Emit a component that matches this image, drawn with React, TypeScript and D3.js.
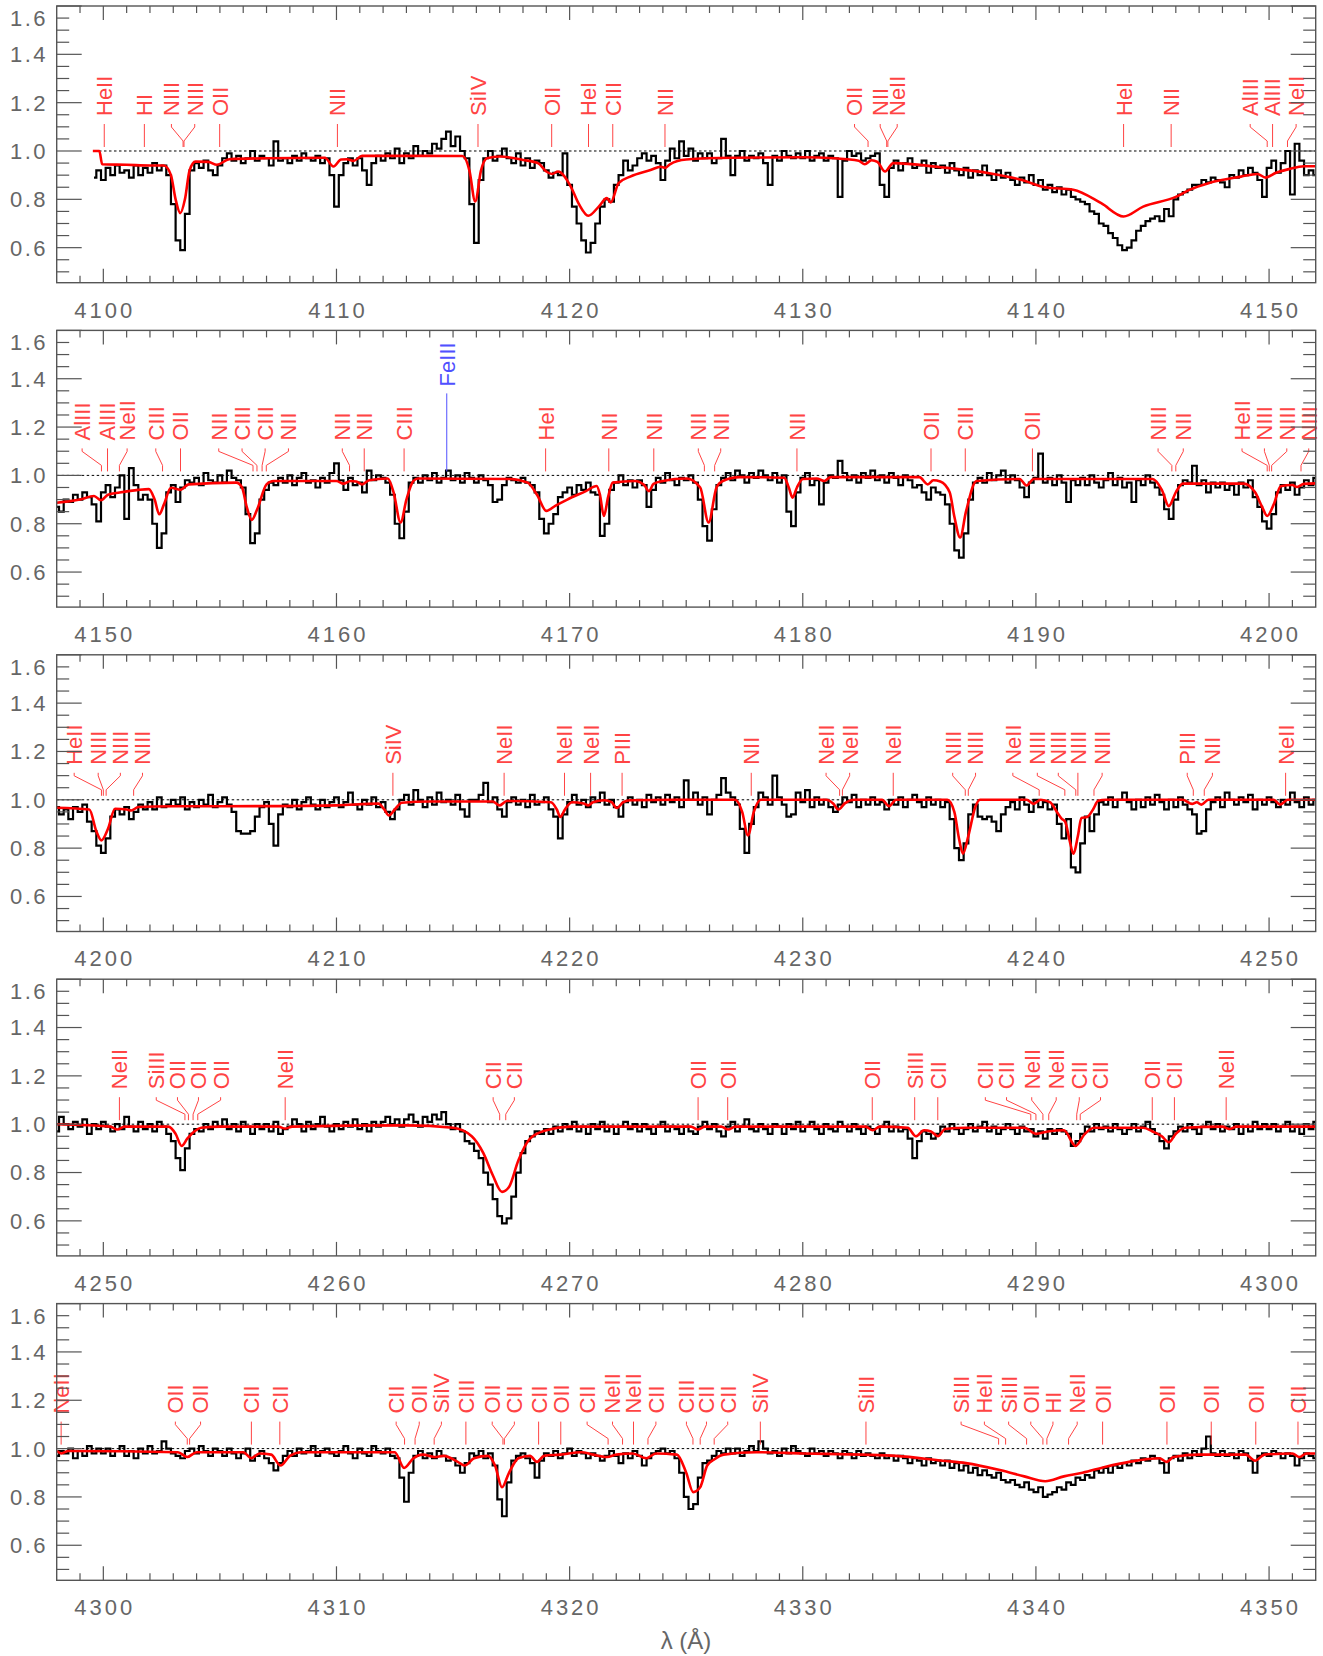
import * as d3 from "d3";

// observed spectrum, flux x100, sampled every 0.2 A
const STEP = 0.2;
// 4099.6 .. 4149.8
const fluxA = [
  89, 92,
  88, 93, 90, 94, 91, 92, 89, 94, 90, 93, 91, 95, 92, 94, 90, 78, 63, 59, 74, 92,
  95, 93, 96, 92, 90, 94, 97, 99, 96, 98, 95, 97, 100, 96, 98, 97, 94, 104, 96, 97,
  95, 98, 96, 99, 97, 96, 98, 95, 97, 90, 77, 90, 95, 97, 94, 97, 92, 86, 95, 98,
  96, 99, 97, 101, 95, 99, 97, 102, 98, 100, 99, 103, 101, 105, 108, 102, 106, 100, 97, 78,
  62, 88, 97, 100, 96, 98, 101, 97, 95, 99, 94, 97, 93, 96, 95, 92, 89, 91, 90, 99,
  86, 77, 70, 63, 58, 62, 70, 77, 80, 79, 86, 90, 96, 92, 94, 97, 99, 96, 98, 95,
  88, 96, 101, 97, 104, 98, 101, 96, 99, 97, 99, 95, 97, 105, 98, 90, 98, 100, 96, 98,
  97, 99, 95, 86, 98, 96, 100, 98, 97, 99, 97, 100, 96, 98, 99, 96, 98, 97, 81, 96,
  100, 98, 99, 96, 97, 98, 99, 86, 81, 93, 96, 92, 95, 97, 93, 94, 96, 91, 95, 93,
  94, 91, 95, 92, 90, 93, 89, 92, 90, 94, 90, 88, 92, 89, 91, 88, 86, 89, 87, 90,
  86, 88, 84, 86, 83, 85, 82, 84, 81, 80, 79, 78, 75, 74, 70, 69, 66, 64, 61, 59,
  60, 63, 67, 69, 71, 72, 73, 71, 76, 73, 80, 82, 83, 84, 86, 86, 88, 87, 89, 88,
  87, 85, 90, 89, 92, 90, 93, 91, 88, 81,
];
// 4150.0 .. 4199.8
const fluxB = [
  93, 96, 91, 95, 100, 82, 103, 96, 90, 92, 90, 80, 70, 76, 93, 96, 89, 95, 98, 97,
  99, 96, 101, 98, 97, 100, 97, 102, 99, 98, 95, 84, 72, 76, 90, 94, 97, 96, 99, 97,
  100, 96, 99, 101, 97, 98, 95, 99, 97, 101, 105, 98, 94, 99, 96, 97, 93, 102, 98, 100,
  99, 97, 92, 80, 74, 85, 97, 99, 97, 100, 98, 101, 97, 99, 102, 98, 100, 97, 101, 99,
  97, 100, 98, 96, 89, 90, 96, 99, 98, 97, 99, 97, 96, 93, 82, 76, 80, 84, 91, 93,
  95, 92, 96, 94, 97, 93, 92, 75, 80, 94, 97, 100, 96, 98, 95, 98, 96, 87, 94, 99,
  97, 101, 98, 96, 99, 98, 100, 97, 90, 79, 73, 86, 96, 99, 101, 98, 102, 100, 97, 101,
  99, 102, 100, 98, 101, 97, 100, 85, 79, 93, 99, 101, 96, 98, 88, 97, 100, 99, 106, 101,
  98, 100, 97, 101, 99, 102, 98, 100, 97, 101, 99, 96, 100, 98, 95, 96, 93, 90, 95, 93,
  92, 88, 80, 69, 66, 76, 90, 97, 99, 97, 101, 98, 100, 102, 97, 100, 98, 95, 91, 97,
  99, 109, 97, 99, 96, 100, 97, 89, 98, 96, 99, 96, 100, 97, 95, 98, 101, 96, 99, 95,
  97, 89, 98, 96, 100, 97, 95, 92, 86, 82, 90, 96, 98, 97, 104, 96, 98, 93, 97, 95,
  97, 94, 96, 92, 97, 95, 98, 91, 87, 81,
];
// 4200.0 .. 4249.8
const fluxC = [
  78, 84, 93, 96, 94, 97, 92, 95, 98, 96, 99, 96, 101, 97, 98, 100, 98, 101, 96, 99,
  97, 100, 98, 102, 97, 99, 101, 98, 95, 87, 86, 86, 87, 93, 97, 99, 90, 81, 94, 98,
  97, 100, 96, 99, 101, 98, 96, 100, 97, 99, 101, 97, 99, 103, 98, 96, 100, 98, 101, 97,
  99, 95, 92, 96, 100, 102, 98, 104, 100, 97, 101, 98, 103, 99, 100, 98, 102, 96, 93, 100,
  100, 102, 107, 99, 101, 96, 93, 99, 101, 98, 100, 97, 102, 98, 99, 101, 96, 93, 84, 94,
  99, 102, 98, 100, 97, 101, 99, 103, 98, 100, 97, 93, 99, 101, 98, 100, 97, 102, 99, 101,
  98, 102, 99, 101, 97, 108, 100, 103, 98, 101, 94, 100, 102, 109, 103, 101, 98, 88, 78, 90,
  97, 103, 101, 98, 110, 101, 98, 93, 94, 103, 99, 104, 97, 101, 98, 100, 97, 95, 98, 101,
  99, 102, 97, 100, 98, 101, 98, 99, 96, 100, 98, 101, 97, 100, 102, 99, 97, 101, 98, 100,
  97, 99, 92, 80, 75, 82, 94, 98, 93, 92, 93, 91, 87, 94, 97, 99, 96, 101, 98, 95,
  100, 97, 99, 96, 98, 90, 84, 92, 72, 70, 82, 93, 87, 94, 99, 98, 101, 97, 100, 103,
  99, 96, 100, 97, 101, 98, 102, 99, 96, 100, 97, 101, 98, 96, 94, 86, 87, 96, 99, 101,
  97, 103, 100, 98, 101, 99, 102, 96, 100, 98,
];
// 4250.0 .. 4299.8
const fluxD = [
  101, 99, 97, 100, 98, 103, 99, 97, 101, 98, 100, 97, 101, 99, 96, 93, 86, 81, 90, 96,
  98, 97, 100, 98, 101, 99, 102, 98, 100, 97, 101, 99, 96, 100, 98, 100, 97, 101, 96, 98,
  99, 102, 100, 97, 101, 98, 100, 103, 99, 97, 100, 98, 101, 99, 102, 98, 100, 97, 101, 99,
  101, 103, 100, 102, 99, 102, 104, 101, 99, 103, 101, 104, 102, 105, 100, 98, 100, 97, 93, 92,
  89, 86, 80, 75, 69, 62, 59, 61, 70, 80, 88, 93, 95, 97, 96, 98, 96, 99, 97, 100,
  98, 101, 97, 99, 96, 100, 98, 101, 97, 99, 96, 99, 101, 98, 100, 97, 100, 98, 96, 99,
  101, 97, 99, 98, 96, 99, 97, 96, 99, 101, 98, 100, 97, 95, 99, 101, 97, 99, 102, 98,
  97, 100, 98, 96, 100, 99, 96, 100, 98, 101, 97, 99, 101, 98, 96, 100, 98, 97, 101, 99,
  97, 100, 98, 96, 99, 98, 96, 99, 101, 97, 99, 97, 98, 94, 86, 93, 97, 96, 94, 96,
  99, 97, 100, 98, 96, 98, 100, 97, 99, 101, 97, 99, 96, 98, 100, 98, 96, 99, 97, 98,
  95, 97, 94, 98, 96, 98, 97, 96, 91, 93, 96, 99, 97, 100, 98, 99, 97, 100, 98, 96,
  98, 100, 97, 99, 101, 98, 96, 93, 90, 95, 97, 99, 97, 100, 98, 96, 99, 101, 98, 100,
  97, 99, 98, 100, 96, 99, 97, 101, 98, 100,
];
// 4300.0 .. 4352.0
const fluxE = [
  98, 100, 97, 99, 101, 97, 99, 96, 100, 98, 101, 98, 99, 103, 100, 98, 97, 96, 99, 100,
  98, 101, 99, 97, 100, 99, 97, 100, 98, 96, 98, 100, 95, 97, 99, 96, 94, 91, 94, 97,
  99, 97, 100, 98, 99, 101, 97, 99, 100, 98, 97, 99, 101, 98, 96, 100, 98, 97, 101, 99,
  98, 100, 97, 96, 88, 78, 90, 97, 99, 96, 98, 96, 99, 97, 95, 96, 93, 90, 94, 98,
  97, 99, 96, 98, 93, 79, 72, 86, 95, 97, 98, 96, 94, 88, 95, 98, 97, 99, 96, 98,
  100, 97, 99, 98, 96, 98, 97, 95, 97, 99, 97, 94, 98, 96, 99, 97, 93, 96, 98, 99,
  100, 98, 99, 96, 90, 80, 75, 77, 88, 94, 95, 97, 99, 98, 100, 98, 100, 97, 99, 101,
  99, 103, 100, 98, 99, 97, 100, 98, 101, 99, 98, 97, 100, 98, 99, 97, 99, 98, 96, 99,
  98, 96, 99, 97, 98, 97, 96, 98, 96, 97, 95, 97, 96, 94, 96, 95, 93, 96, 94, 95,
  93, 95, 92, 94, 91, 93, 90, 92, 89, 91, 89, 88, 90, 87, 86, 87, 85, 84, 86, 83,
  82, 84, 80, 81, 82, 84, 83, 86, 85, 88, 87, 89, 88, 91, 90, 92, 90, 93, 92, 94,
  93, 95, 94, 96, 95, 97, 96, 94, 90, 96, 97, 95, 98, 96, 99, 97, 100, 105, 98, 97,
  99, 97, 98, 96, 99, 98, 95, 90, 97, 98, 97, 99, 98, 96, 98, 97, 93, 96, 98, 97,
  96,
];

// model spectrum knots [wavelength, flux] read per panel
const modelP1 = [
  [4099.55, 1.0], [4099.83, 1.0], [4099.95, 0.945], [4101.0, 0.943], [4102.0, 0.94], [4102.6, 0.94],
  [4102.9, 0.9], [4103.1, 0.8], [4103.3, 0.743], [4103.5, 0.8], [4103.7, 0.92], [4103.95, 0.956],
  [4104.5, 0.955], [4104.87, 0.943], [4105.4, 0.966], [4107, 0.97], [4109.5, 0.972], [4109.87, 0.936],
  [4110.2, 0.965], [4110.45, 0.966], [4110.73, 0.959], [4111.1, 0.98], [4113, 0.98], [4115.4, 0.979],
  [4115.7, 0.92], [4115.95, 0.791], [4116.2, 0.92], [4116.45, 0.97], [4117, 0.977], [4118, 0.963],
  [4118.66, 0.949], [4119.0, 0.915], [4119.25, 0.905], [4119.5, 0.915], [4120.05, 0.853], [4120.4, 0.78],
  [4120.8, 0.732], [4121.25, 0.77], [4121.6, 0.805], [4121.76, 0.787], [4122.1, 0.867], [4122.6, 0.894],
  [4123.5, 0.922], [4123.9, 0.935], [4124.1, 0.93], [4124.3, 0.945], [4125, 0.965], [4127, 0.972],
  [4130, 0.974], [4131.35, 0.97], [4132.4, 0.96], [4132.66, 0.945], [4132.95, 0.962], [4133.2, 0.955],
  [4133.53, 0.915], [4133.88, 0.95], [4135.9, 0.933], [4138, 0.908], [4139.4, 0.88], [4140.4, 0.85],
  [4141.6, 0.84], [4142.8, 0.784], [4143.76, 0.729], [4144.6, 0.77], [4146.0, 0.81], [4146.6, 0.84],
  [4147.4, 0.867], [4148.8, 0.894], [4149.5, 0.905], [4149.85, 0.89], [4150.3, 0.91], [4150.85, 0.925],
  [4151.5, 0.937], [4152, 0.937],
];
const modelP2 = [
  [4148, 0.887], [4149.0, 0.9], [4149.6, 0.915], [4149.9, 0.897], [4150.2, 0.92], [4150.7, 0.929],
  [4151.5, 0.94], [4151.95, 0.943], [4152.2, 0.9], [4152.4, 0.839], [4152.6, 0.88], [4152.9, 0.949],
  [4153.3, 0.94], [4153.66, 0.963], [4155.7, 0.97], [4155.95, 0.95], [4156.15, 0.87], [4156.37, 0.816],
  [4156.6, 0.86], [4157.0, 0.963], [4157.3, 0.977], [4160.0, 0.977], [4160.3, 0.966], [4160.6, 0.977],
  [4160.85, 0.975], [4161.1, 0.963], [4161.4, 0.98], [4162.2, 0.987], [4162.45, 0.93], [4162.75, 0.805],
  [4163.0, 0.9], [4163.3, 0.977], [4163.5, 0.987], [4167.45, 0.985], [4168.2, 0.97], [4168.6, 0.92],
  [4169.0, 0.853], [4169.4, 0.875], [4169.9, 0.9], [4170.7, 0.935], [4171.16, 0.956], [4171.3, 0.92],
  [4171.47, 0.832], [4171.65, 0.91], [4171.85, 0.97], [4172.8, 0.977], [4173.2, 0.96], [4173.4, 0.935],
  [4173.6, 0.965], [4174, 0.977], [4175, 0.987], [4175.6, 0.95], [4175.96, 0.805], [4176.3, 0.95],
  [4176.57, 0.977], [4177.3, 0.993], [4179.2, 0.99], [4179.4, 0.95], [4179.56, 0.908], [4179.75, 0.95],
  [4180.0, 0.985], [4180.6, 0.987], [4180.92, 0.977], [4181.2, 0.993], [4185.0, 0.993], [4185.36, 0.963],
  [4185.6, 0.98], [4185.9, 0.975], [4186.3, 0.93], [4186.5, 0.83], [4186.75, 0.743], [4187.0, 0.85],
  [4187.45, 0.977], [4189.3, 0.985], [4189.6, 0.958], [4189.9, 0.985], [4195.0, 0.985], [4195.4, 0.94],
  [4195.7, 0.873], [4196.0, 0.93], [4196.3, 0.966], [4198.9, 0.966], [4199.4, 0.93], [4199.7, 0.87],
  [4199.92, 0.832], [4200.2, 0.88], [4200.5, 0.955], [4201.0, 0.96], [4201.2, 0.952], [4201.5, 0.965],
  [4202, 0.967],
];
const modelP3 = [
  [4198, 0.967], [4199.4, 0.96], [4199.7, 0.87], [4199.92, 0.832], [4200.2, 0.88], [4200.5, 0.963],
  [4201.0, 0.96], [4201.2, 0.956], [4201.5, 0.97], [4203, 0.973], [4207, 0.974], [4210, 0.977],
  [4211.8, 0.984], [4212.05, 0.96], [4212.25, 0.935], [4212.5, 0.96], [4212.8, 0.988], [4214, 0.993],
  [4216.7, 0.993], [4217.0, 0.977], [4217.3, 0.995], [4219.2, 0.99], [4219.45, 0.96], [4219.6, 0.929],
  [4219.8, 0.96], [4220.1, 0.99], [4220.6, 0.985], [4220.8, 0.977], [4221.0, 0.99], [4221.5, 0.998],
  [4221.8, 0.99], [4222.02, 0.966], [4222.3, 0.99], [4222.6, 0.998], [4224.5, 1.0], [4227.1, 1.0],
  [4227.4, 0.95], [4227.65, 0.853], [4227.9, 0.95], [4228.2, 1.0], [4231.0, 1.0], [4231.3, 0.985],
  [4231.53, 0.96], [4231.8, 0.985], [4232.2, 1.0], [4233.4, 1.0], [4233.7, 0.974], [4234.0, 1.0],
  [4236.2, 1.0], [4236.5, 0.95], [4236.7, 0.84], [4236.87, 0.777], [4237.1, 0.85], [4237.4, 0.97],
  [4237.6, 1.0], [4239.6, 1.0], [4239.9, 0.983], [4240.2, 1.0], [4240.6, 0.99], [4240.9, 0.95],
  [4241.1, 0.922], [4241.25, 0.91], [4241.45, 0.83], [4241.6, 0.777], [4241.8, 0.85], [4241.95, 0.925],
  [4242.2, 0.929], [4242.45, 0.96], [4242.67, 0.996], [4243, 1.0], [4246.3, 1.0], [4246.7, 0.983],
  [4246.9, 0.99], [4247.1, 0.98], [4247.4, 1.0], [4250.2, 1.0], [4250.47, 0.98], [4250.8, 1.0],
  [4252, 1.0],
];
const modelP4 = [
  [4248, 1.0], [4250.3, 0.99], [4250.6, 0.978], [4250.9, 0.99], [4252.8, 0.99], [4253.1, 0.96],
  [4253.36, 0.91], [4253.6, 0.94], [4253.9, 0.97], [4254.2, 0.985], [4255, 0.99], [4257.5, 0.99],
  [4257.8, 0.982], [4258.1, 0.99], [4263, 0.995], [4265, 0.985], [4265.8, 0.95], [4266.3, 0.88],
  [4266.7, 0.79], [4267.1, 0.72], [4267.4, 0.74], [4267.8, 0.85], [4268.3, 0.94], [4269, 0.975],
  [4270, 0.99], [4275.2, 0.99], [4275.5, 0.978], [4275.8, 0.99], [4276.5, 0.99], [4276.8, 0.978],
  [4277.1, 0.99], [4282.7, 0.99], [4283.0, 0.975], [4283.3, 0.99], [4284.5, 0.985], [4284.85, 0.95],
  [4285.2, 0.975], [4285.5, 0.97], [4285.8, 0.95], [4286.1, 0.98], [4287, 0.985], [4289.5, 0.985],
  [4290.0, 0.96], [4290.5, 0.97], [4291.2, 0.975], [4291.7, 0.91], [4292.1, 0.96], [4292.5, 0.985],
  [4294.6, 0.985], [4295.0, 0.97], [4295.4, 0.95], [4295.7, 0.925], [4296.0, 0.96], [4296.4, 0.985],
  [4298.0, 0.99], [4298.3, 0.98], [4298.6, 0.99], [4300, 0.99], [4302, 0.99],
];
const modelP5 = [
  [4298, 0.99], [4298.2, 0.98], [4298.5, 0.99], [4303.2, 0.985], [4303.6, 0.965], [4304.0, 0.985],
  [4306.0, 0.985], [4306.35, 0.96], [4306.7, 0.98], [4307.2, 0.975], [4307.6, 0.93], [4308.0, 0.97],
  [4308.5, 0.985], [4312.5, 0.985], [4312.9, 0.92], [4313.3, 0.96], [4313.7, 0.975], [4314.2, 0.965],
  [4314.6, 0.97], [4315.2, 0.945], [4315.5, 0.93], [4315.9, 0.96], [4316.5, 0.97], [4316.8, 0.93],
  [4317.1, 0.84], [4317.4, 0.9], [4317.8, 0.96], [4318.3, 0.97], [4318.6, 0.945], [4318.9, 0.97],
  [4319.6, 0.975], [4320.5, 0.985], [4321.0, 0.975], [4321.6, 0.965], [4322.0, 0.975], [4322.7, 0.98],
  [4323.3, 0.96], [4323.7, 0.98], [4324.6, 0.975], [4325.0, 0.9], [4325.3, 0.82], [4325.6, 0.84],
  [4325.9, 0.93], [4326.2, 0.955], [4326.6, 0.975], [4328, 0.985], [4330, 0.98], [4332.5, 0.975],
  [4334, 0.97], [4336, 0.95], [4337, 0.94], [4338.5, 0.91], [4339.5, 0.885], [4340.4, 0.865],
  [4341.2, 0.885], [4342, 0.9], [4343, 0.925], [4344, 0.945], [4345.3, 0.96], [4345.6, 0.945],
  [4345.9, 0.965], [4347, 0.975], [4349.0, 0.975], [4349.4, 0.95], [4349.8, 0.975], [4351.0, 0.98],
  [4351.3, 0.965], [4351.6, 0.98], [4352, 0.98],
];

// line identifications: [ion, label wavelength, line wavelength]
const linesP1 = [
  ["HeII", 4100.04, 4100.04], ["HI", 4101.76, 4101.76], ["NIII", 4102.92, 4103.42], ["NIII", 4103.92, 4103.46],
  ["OII", 4104.99, 4104.99], ["NII", 4110.04, 4110.04], ["SiIV", 4116.07, 4116.07], ["OII", 4119.23, 4119.23],
  ["HeI", 4120.81, 4120.81], ["CIII", 4121.85, 4121.85], ["NII", 4124.09, 4124.09], ["OII", 4132.22, 4132.8],
  ["NII", 4133.32, 4133.6], ["NeII", 4134.05, 4133.65], ["HeI", 4143.76, 4143.76], ["NII", 4145.8, 4145.8],
  ["AlIII", 4149.19, 4149.92], ["AlIII", 4150.15, 4150.15], ["NeII", 4151.16, 4150.79],
];
const linesP2 = [
  ["AlIII", 4149.09, 4149.92], ["AlIII", 4150.18, 4150.18], ["NeII", 4151.02, 4150.69], ["CIII", 4152.25, 4152.54],
  ["OII", 4153.31, 4153.31], ["NII", 4154.95, 4156.42], ["CIII", 4155.95, 4156.59], ["CIII", 4156.94, 4156.81],
  ["NII", 4157.94, 4156.99], ["NII", 4160.25, 4160.56], ["NII", 4161.19, 4161.19], ["CIII", 4162.9, 4162.9],
  ["HeI", 4168.97, 4168.97], ["NII", 4171.68, 4171.68], ["NII", 4173.61, 4173.61], ["NII", 4175.52, 4175.78],
  ["NII", 4176.48, 4176.22], ["NII", 4179.75, 4179.75], ["OII", 4185.5, 4185.5], ["CIII", 4186.97, 4186.97],
  ["OII", 4189.85, 4189.85], ["NIII", 4195.24, 4195.83], ["NII", 4196.32, 4196.0], ["HeII", 4198.84, 4199.92],
  ["NIII", 4199.8, 4200.01], ["NIII", 4200.76, 4200.11], ["NIII", 4201.7, 4201.37],
];
const linesP3 = [
  ["HeII", 4198.75, 4199.92], ["NIII", 4199.78, 4200.0], ["NIII", 4200.73, 4200.12], ["NIII", 4201.68, 4201.3],
  ["SiIV", 4212.42, 4212.42], ["NeII", 4217.19, 4217.19], ["NeII", 4219.78, 4219.78], ["NeII", 4220.9, 4220.9],
  ["PIII", 4222.25, 4222.25], ["NII", 4227.79, 4227.79], ["NeII", 4231.0, 4231.58], ["NeII", 4232.01, 4231.7],
  ["NeII", 4233.88, 4233.88], ["NIII", 4236.43, 4236.97], ["NIII", 4237.41, 4237.1], ["NeII", 4239.01, 4240.14],
  ["NIII", 4240.06, 4241.24], ["NIII", 4240.96, 4241.71], ["NIII", 4241.8, 4241.8], ["NIII", 4242.84, 4242.49],
  ["PIII", 4246.49, 4246.75], ["NII", 4247.57, 4247.22], ["NeII", 4250.71, 4250.71],
];
const linesP4 = [
  ["NeII", 4250.69, 4250.69], ["SiIII", 4252.27, 4253.5], ["OII", 4253.18, 4253.65], ["OII", 4254.08, 4253.85],
  ["OII", 4255.03, 4254.05], ["NeII", 4257.8, 4257.8], ["CII", 4266.72, 4267.0], ["CII", 4267.63, 4267.26],
  ["OII", 4275.51, 4275.51], ["OII", 4276.78, 4276.78], ["OII", 4282.98, 4282.98], ["SiIII", 4284.8, 4284.8],
  ["CII", 4285.79, 4285.79], ["CII", 4287.83, 4289.78], ["CII", 4288.74, 4290.0], ["NeII", 4289.82, 4290.3],
  ["NeII", 4290.87, 4290.55], ["CII", 4291.86, 4291.75], ["CII", 4292.77, 4291.9], ["OII", 4294.99, 4294.99],
  ["CII", 4295.94, 4295.94], ["NeII", 4298.16, 4298.16],
];
const linesP5 = [
  ["NeII", 4298.19, 4298.19], ["OII", 4303.09, 4303.6], ["OII", 4304.17, 4303.7], ["CII", 4306.35, 4306.35],
  ["CII", 4307.57, 4307.57], ["CII", 4312.56, 4312.92], ["OII", 4313.55, 4313.37], ["SiIV", 4314.5, 4314.19],
  ["CIII", 4315.55, 4315.55], ["OII", 4316.68, 4317.14], ["CII", 4317.63, 4317.2], ["CII", 4318.67, 4318.67],
  ["OII", 4319.62, 4319.62], ["CII", 4320.75, 4321.65], ["NeII", 4321.84, 4322.27], ["NeII", 4322.74, 4322.72],
  ["CII", 4323.7, 4323.36], ["CIII", 4325.01, 4325.29], ["CII", 4325.87, 4325.6], ["CII", 4326.78, 4326.2],
  ["SiIV", 4328.18, 4328.18], ["SiIII", 4332.71, 4332.71], ["SiIII", 4336.79, 4338.4], ["HeII", 4337.79, 4338.7],
  ["SiIII", 4338.83, 4339.6], ["OII", 4339.78, 4340.3], ["HI", 4340.73, 4340.47], ["NeII", 4341.77, 4341.4],
  ["OII", 4342.86, 4342.86], ["OII", 4345.62, 4345.62], ["OII", 4347.52, 4347.52], ["OII", 4349.43, 4349.43],
  ["CII", 4351.24, 4351.24],
];
const ironLines = [["FeIII", 4164.73]];

const panelRanges = [[4098, 4152], [4148, 4202], [4198, 4252], [4248, 4302], [4298, 4352]];
const panelModels = [modelP1, modelP2, modelP3, modelP4, modelP5];
const panelLines = [linesP1, linesP2, linesP3, linesP4, linesP5];
const yMajor = [0.6, 0.8, 1.0, 1.2, 1.4, 1.6];

const W = 1323;
const H = 1656;
const LEFT = 56.7;
const RIGHT = 1315.7;
const TOP0 = 6;
const PH = 276.7;
const GAP = 324.4;
const FONT = "'Liberation Sans', Arial, sans-serif";
const AXIS = "#555";
const RED = "#ff4444";
const BLUE = "#5050ff";

const spectrum: [number, number][] = (
  [[4099.6, fluxA], [4150, fluxB], [4200, fluxC], [4250, fluxD], [4300, fluxE]] as [number, number[]][]
).flatMap(([start, arr]) => arr.map((f, i) => [+(start + i * STEP).toFixed(2), f / 100] as [number, number]));

function Panel({ idx }: { idx: number }) {
  const [lo, hi] = panelRanges[idx];
  const top = TOP0 + idx * GAP;
  const bottom = top + PH;
  const x = d3.scaleLinear().domain([lo, hi]).range([LEFT, RIGHT]);
  const y = d3.scaleLinear().domain([0.455, 1.6]).range([bottom, top]);

  const obs = spectrum.filter((d) => d[0] >= lo - 0.2 && d[0] <= hi + 0.2);
  const obsPath = d3.line<[number, number]>().x((d) => x(d[0])).y((d) => y(d[1])).curve(d3.curveStep)(obs);
  const modelPath = d3
    .line<number[]>()
    .x((d) => x(d[0]))
    .y((d) => y(d[1]))
    .curve(d3.curveMonotoneX)(panelModels[idx]);

  const dashStart = x(Math.max(lo, spectrum[0][0]));
  const minorX = d3.range(lo + 1, hi, 1);
  const majorX = x.ticks(5);
  const minorY = d3.range(0.5, 1.6, 0.05).filter((v) => !yMajor.some((m) => Math.abs(m - v) < 1e-6));
  const clipId = `clip${idx}`;

  const lineLabels = panelLines[idx].map(([name, lx, tx], k) => {
    const xl = x(lx as number);
    const xt = x(tx as number);
    const pts =
      Math.abs(xl - xt) < 0.5
        ? `${xl},${top + 118} ${xl},${top + 141}`
        : `${xl},${top + 118} ${xl},${top + 121} ${xt},${top + 135} ${xt},${top + 141}`;
    return (
      <g key={k}>
        <polyline points={pts} fill="none" stroke={RED} strokeWidth={1} />
        <text
          transform={`translate(${xl},${top + 110}) rotate(-90)`}
          dy="0.36em"
          fontSize={22}
          fill={RED}
          fontFamily={FONT}
        >
          {name}
        </text>
      </g>
    );
  });

  const iron = ironLines
    .filter(([, l]) => (l as number) > lo && (l as number) < hi)
    .map(([name, l], k) => (
      <g key={`fe${k}`}>
        <line x1={x(l as number)} x2={x(l as number)} y1={top + 63} y2={top + 141} stroke={BLUE} strokeWidth={1} />
        <text
          transform={`translate(${x(l as number)},${top + 56}) rotate(-90)`}
          dy="0.36em"
          fontSize={22}
          fill={BLUE}
          fontFamily={FONT}
        >
          {name}
        </text>
      </g>
    ));

  return (
    <g>
      <defs>
        <clipPath id={clipId}>
          <rect x={LEFT} y={top} width={RIGHT - LEFT} height={PH} />
        </clipPath>
      </defs>
      <line x1={dashStart} x2={RIGHT} y1={y(1)} y2={y(1)} stroke="#000" strokeWidth={1} strokeDasharray="2.5 2.5" />
      <g clipPath={`url(#${clipId})`}>
        <path d={obsPath || ""} fill="none" stroke="#000" strokeWidth={2.2} />
        <path d={modelPath || ""} fill="none" stroke="#ff0000" strokeWidth={2.6} />
      </g>
      {lineLabels}
      {iron}
      {/* frame and ticks */}
      <rect x={LEFT} y={top} width={RIGHT - LEFT} height={PH} fill="none" stroke={AXIS} strokeWidth={1.4} />
      {minorX.map((v) => (
        <g key={`mx${v}`} stroke={AXIS} strokeWidth={1.2}>
          <line x1={x(v)} x2={x(v)} y1={bottom} y2={bottom - (majorX.includes(v) ? 14 : 7)} />
          <line x1={x(v)} x2={x(v)} y1={top} y2={top + (majorX.includes(v) ? 14 : 7)} />
        </g>
      ))}
      {minorY.map((v) => (
        <g key={`my${v}`} stroke={AXIS} strokeWidth={1.2}>
          <line x1={LEFT} x2={LEFT + 12.5} y1={y(v)} y2={y(v)} />
          <line x1={RIGHT} x2={RIGHT - 12.5} y1={y(v)} y2={y(v)} />
        </g>
      ))}
      {yMajor.map((v) => (
        <g key={`Y${v}`}>
          <line x1={LEFT} x2={LEFT + 25} y1={y(v)} y2={y(v)} stroke={AXIS} strokeWidth={1.2} />
          <line x1={RIGHT} x2={RIGHT - 25} y1={y(v)} y2={y(v)} stroke={AXIS} strokeWidth={1.2} />
          <text
            x={48}
            y={Math.max(y(v), top + 12)}
            dy="0.36em"
            textAnchor="end"
            fontSize={22}
            letterSpacing={2.5}
            fill="#666"
            fontFamily={FONT}
          >
            {d3.format(".1f")(v)}
          </text>
        </g>
      ))}
      {majorX.map((v) => (
        <text
          key={`X${v}`}
          x={x(v) + 1.5}
          y={bottom + 27}
          dy="0.36em"
          textAnchor="middle"
          fontSize={22}
          letterSpacing={3}
          fill="#666"
          fontFamily={FONT}
        >
          {v}
        </text>
      ))}
    </g>
  );
}

export default function App() {
  return (
    <svg
      width={W}
      height={H}
      viewBox={`0 0 ${W} ${H}`}
      style={{ position: "absolute", left: 0, top: 0, background: "#fff" }}
    >
      <rect width={W} height={H} fill="#fff" />
      {panelRanges.map((_, i) => (
        <Panel key={i} idx={i} />
      ))}
      <text x={686} y={1640} dy="0.36em" textAnchor="middle" fontSize={24} fill="#666" fontFamily={FONT}>
        λ (Å)
      </text>
    </svg>
  );
}
